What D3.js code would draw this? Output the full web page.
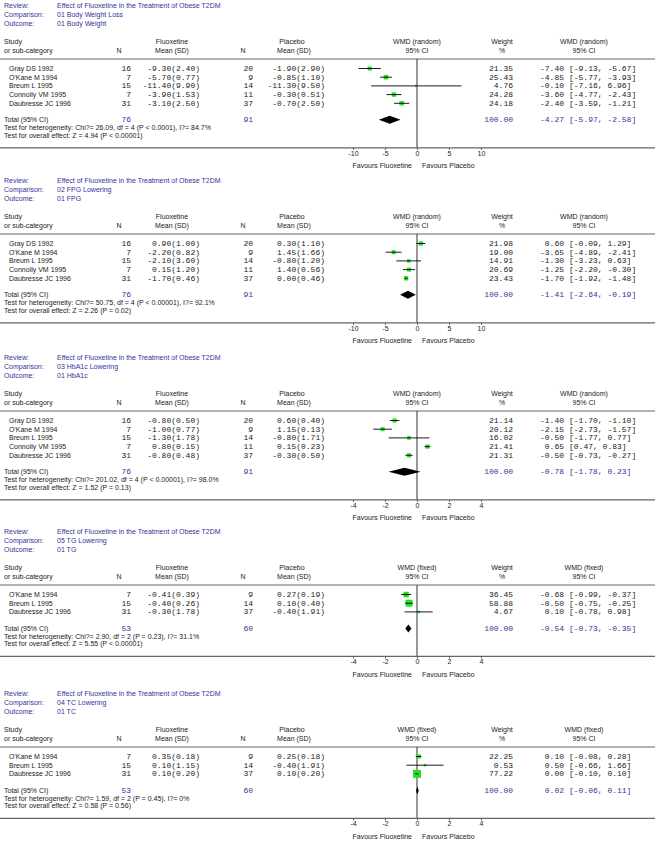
<!DOCTYPE html>
<html><head><meta charset="utf-8">
<script src="https://cdn.jsdelivr.net/npm/d3@7"></script>
<style>body{margin:0;background:#fff}</style>
</head><body>
<svg id="c" width="661" height="842"></svg>
<script>
// ---------- DATA ----------
const reviewTitle = "Effect of Fluoxetine in the Treatment of Obese T2DM";
const comparisons = ["01 Body Weight Loss", "02 FPG Lowering", "03 HbA1c Lowering", "05 TG Lowering", "04 TC Lowering"];
const outcomes = ["01 Body Weight", "01 FPG", "01 HbA1c", "01 TG", "01 TC"];
const methods = ["random", "random", "random", "fixed", "fixed"];
const studyNames = [
  ["Gray DS 1992", "O'Kane M 1994", "Breum L 1995", "Connolly VM 1995", "Daubresse JC 1996"],
  ["Gray DS 1992", "O'Kane M 1994", "Breum L 1995", "Connolly VM 1995", "Daubresse JC 1996"],
  ["Gray DS 1992", "O'Kane M 1994", "Breum L 1995", "Connolly VM 1995", "Daubresse JC 1996"],
  ["O'Kane M 1994", "Breum L 1995", "Daubresse JC 1996"],
  ["O'Kane M 1994", "Breum L 1995", "Daubresse JC 1996"]
];
const fluoxN = [[16, 7, 15, 7, 31], [16, 7, 15, 7, 31], [16, 7, 15, 7, 31], [7, 15, 31], [7, 15, 31]];
const fluoxMean = [[-9.30, -5.70, -11.40, -3.90, -3.10], [0.90, -2.20, -2.10, 0.15, -1.70], [-0.80, -1.00, -1.30, 0.80, -0.80], [-0.41, -0.40, -0.30], [0.35, 0.10, 0.10]];
const fluoxSD = [[2.40, 0.77, 9.90, 1.53, 2.50], [1.00, 0.82, 3.60, 1.20, 0.46], [0.50, 0.77, 1.78, 0.15, 0.48], [0.39, 0.26, 1.78], [0.18, 1.15, 0.20]];
const placeboN = [[20, 9, 14, 11, 37], [20, 9, 14, 11, 37], [20, 9, 14, 11, 37], [9, 14, 37], [9, 14, 37]];
const placeboMean = [[-1.90, -0.85, -11.30, -0.30, -0.70], [0.30, 1.45, -0.80, 1.40, 0.00], [0.60, 1.15, -0.80, 0.15, -0.30], [0.27, 0.10, -0.40], [0.25, -0.40, 0.10]];
const placeboSD = [[2.90, 1.10, 9.50, 0.51, 2.50], [1.10, 1.66, 1.20, 0.56, 0.46], [0.40, 0.13, 1.71, 0.23, 0.50], [0.19, 0.40, 1.91], [0.18, 1.91, 0.20]];
const weights = [[21.35, 25.43, 4.76, 24.28, 24.18], [21.98, 19.00, 14.91, 20.69, 23.43], [21.14, 20.12, 16.02, 21.41, 21.31], [36.45, 58.88, 4.67], [22.25, 0.53, 77.22]];
const wmd = [[-7.40, -4.85, -0.10, -3.60, -2.40], [0.60, -3.65, -1.30, -1.25, -1.70], [-1.40, -2.15, -0.50, 0.65, -0.50], [-0.68, -0.50, 0.10], [0.10, 0.50, 0.00]];
const ciLow = [[-9.13, -5.77, -7.16, -4.77, -3.59], [-0.09, -4.89, -3.23, -2.20, -1.92], [-1.70, -2.73, -1.77, 0.47, -0.73], [-0.99, -0.75, -0.78], [-0.08, -0.66, -0.10]];
const ciHigh = [[-5.67, -3.93, 6.96, -2.43, -1.21], [1.29, -2.41, 0.63, -0.30, -1.48], [-1.10, -1.57, 0.77, 0.83, -0.27], [-0.37, -0.25, 0.98], [0.28, 1.66, 0.10]];
const totalFluoxN = [76, 76, 76, 53, 53];
const totalPlaceboN = [91, 91, 91, 60, 60];
const totalWMD = [-4.27, -1.41, -0.78, -0.54, 0.02];
const totalLow = [-5.97, -2.64, -1.78, -0.73, -0.06];
const totalHigh = [-2.58, -0.19, 0.23, -0.35, 0.11];
const heterogeneity = [
  "Test for heterogeneity: Chi?= 26.09, df = 4 (P < 0.0001), I?= 84.7%",
  "Test for heterogeneity: Chi?= 50.75, df = 4 (P < 0.00001), I?= 92.1%",
  "Test for heterogeneity: Chi?= 201.02, df = 4 (P < 0.00001), I?= 98.0%",
  "Test for heterogeneity: Chi?= 2.90, df = 2 (P = 0.23), I?= 31.1%",
  "Test for heterogeneity: Chi?= 1.59, df = 2 (P = 0.45), I?= 0%"
];
const overallEffect = [
  "Test for overall effect: Z = 4.94 (P < 0.00001)",
  "Test for overall effect: Z = 2.26 (P = 0.02)",
  "Test for overall effect: Z = 1.52 (P = 0.13)",
  "Test for overall effect: Z = 5.55 (P < 0.00001)",
  "Test for overall effect: Z = 0.58 (P = 0.56)"
];
const axisTicks = [[-10, -5, 0, 5, 10], [-10, -5, 0, 5, 10], [-4, -2, 0, 2, 4], [-4, -2, 0, 2, 4], [-4, -2, 0, 2, 4]];
const favoursLeft = "Favours Fluoxetine";
const favoursRight = "Favours Placebo";

// ---------- LAYOUT ----------
const panelTops = [5, 180, 357, 531, 693];
const SANS = "'Liberation Sans', Arial, sans-serif";
const MONO = "'Liberation Mono', 'Courier New', monospace";
const BLUE = "#333399";
const TXT = "#222";
const GREEN = "#22e022";
const fs = 7, fm = 8;
const rowStep = 8.7;

const svg = d3.select("#c");
const f2 = v => v.toFixed(2);

function txt(g, x, y, s, opt = {}) {
  return g.append("text").attr("x", x).attr("y", y)
    .attr("dominant-baseline", "central")
    .attr("text-anchor", opt.anchor || "start")
    .attr("font-family", opt.mono ? MONO : SANS)
    .attr("font-size", opt.mono ? fm : fs)
    .attr("fill", opt.color || TXT)
    .text(s);
}

panelTops.forEach((T, p) => {
  const g = svg.append("g");
  const n = studyNames[p].length;
  const x = d3.scaleLinear().domain([axisTicks[p][0], axisTicks[p][axisTicks[p].length - 1]]).range([353, 481]);
  const rowY = i => T + 63.5 + i * rowStep;
  const lastY = rowY(n - 1);
  const totalY = lastY + 16.5;
  const axisY = lastY + 44.5;
  const lineY = T + 54;

  txt(g, 4, T, "Review:", { color: BLUE });
  txt(g, 57, T, reviewTitle, { color: BLUE });
  txt(g, 4, T + 9.5, "Comparison:", { color: BLUE });
  txt(g, 57, T + 9.5, comparisons[p], { color: BLUE });
  txt(g, 4, T + 18.5, "Outcome:", { color: BLUE });
  txt(g, 57, T + 18.5, outcomes[p], { color: BLUE });

  const h1 = T + 36.5, h2 = T + 45.5;
  txt(g, 4, h1, "Study");
  txt(g, 4, h2, "or sub-category");
  txt(g, 119, h2, "N", { anchor: "middle" });
  txt(g, 172, h1, "Fluoxetine", { anchor: "middle" });
  txt(g, 172, h2, "Mean (SD)", { anchor: "middle" });
  txt(g, 243, h2, "N", { anchor: "middle" });
  txt(g, 292, h1, "Placebo", { anchor: "middle" });
  txt(g, 294, h2, "Mean (SD)", { anchor: "middle" });
  const wm = "WMD (" + methods[p] + ")";
  txt(g, 417, h1, wm, { anchor: "middle" });
  txt(g, 417, h2, "95% CI", { anchor: "middle" });
  txt(g, 502, h1, "Weight", { anchor: "middle" });
  txt(g, 502, h2, "%", { anchor: "middle" });
  txt(g, 584, h1, wm, { anchor: "middle" });
  txt(g, 584, h2, "95% CI", { anchor: "middle" });

  g.append("line").attr("x1", 0).attr("x2", 655).attr("y1", lineY).attr("y2", lineY)
    .attr("stroke", "#666").attr("stroke-width", 1.2);

  g.append("line").attr("x1", x(0)).attr("x2", x(0)).attr("y1", lineY).attr("y2", axisY)
    .attr("stroke", "#333").attr("stroke-width", 1);

  studyNames[p].forEach((name, i) => {
    const y = rowY(i);
    txt(g, 9, y, name);
    txt(g, 131, y, fluoxN[p][i], { mono: true, anchor: "end" });
    txt(g, 200, y, f2(fluoxMean[p][i]) + "(" + f2(fluoxSD[p][i]) + ")", { mono: true, anchor: "end" });
    txt(g, 253, y, placeboN[p][i], { mono: true, anchor: "end" });
    txt(g, 325, y, f2(placeboMean[p][i]) + "(" + f2(placeboSD[p][i]) + ")", { mono: true, anchor: "end" });
    txt(g, 513, y, f2(weights[p][i]), { mono: true, anchor: "end" });
    txt(g, 564, y, f2(wmd[p][i]), { mono: true, anchor: "end" });
    txt(g, 569, y, "[" + f2(ciLow[p][i]) + ", " + f2(ciHigh[p][i]) + "]", { mono: true });

    const s = Math.max(2.5, 0.9 * Math.sqrt(weights[p][i]));
    g.append("rect").attr("x", x(wmd[p][i]) - s / 2).attr("y", y - s / 2)
      .attr("width", s).attr("height", s).attr("fill", GREEN);
    g.append("line").attr("x1", x(ciLow[p][i])).attr("x2", x(ciHigh[p][i]))
      .attr("y1", y).attr("y2", y).attr("stroke", "#000").attr("stroke-width", 0.9);
  });

  txt(g, 4, totalY, "Total (95% CI)");
  txt(g, 131, totalY, totalFluoxN[p], { mono: true, anchor: "end", color: BLUE });
  txt(g, 253, totalY, totalPlaceboN[p], { mono: true, anchor: "end", color: BLUE });
  txt(g, 513, totalY, "100.00", { mono: true, anchor: "end", color: BLUE });
  txt(g, 564, totalY, f2(totalWMD[p]), { mono: true, anchor: "end", color: BLUE });
  txt(g, 569, totalY, "[" + f2(totalLow[p]) + ", " + f2(totalHigh[p]) + "]", { mono: true, color: BLUE });
  const dy = 4;
  g.append("path")
    .attr("d", `M${x(totalLow[p])},${totalY}L${x(totalWMD[p])},${totalY - dy}L${x(totalHigh[p])},${totalY}L${x(totalWMD[p])},${totalY + dy}Z`)
    .attr("fill", "#000");

  txt(g, 4, totalY + 8, heterogeneity[p]);
  txt(g, 4, totalY + 15.5, overallEffect[p]);

  g.append("line").attr("x1", 0).attr("x2", 655).attr("y1", axisY).attr("y2", axisY)
    .attr("stroke", "#666").attr("stroke-width", 1.2);
  const ax = g.append("g").attr("transform", `translate(0,${axisY})`)
    .call(d3.axisBottom(x).tickValues(axisTicks[p]).tickSize(2).tickPadding(1).tickFormat(d3.format("d")));
  ax.select(".domain").remove();
  ax.selectAll("line").attr("stroke", "#555");
  ax.selectAll("text").attr("font-family", SANS).attr("font-size", fs).attr("fill", TXT)
    .text(d => String(d));
  txt(g, x(0) - 5, axisY + 18, favoursLeft, { anchor: "end" });
  txt(g, x(0) + 5, axisY + 18, favoursRight);
});
</script>
</body></html>
